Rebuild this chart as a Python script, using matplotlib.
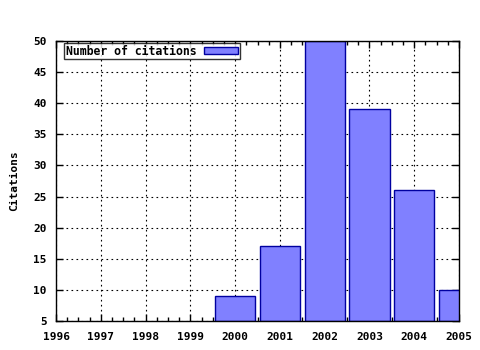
import matplotlib
matplotlib.use("Agg")
import matplotlib.pyplot as plt
from matplotlib.ticker import AutoMinorLocator

years = [2000, 2001, 2002, 2003, 2004, 2005]
citations = [9, 17, 50, 39, 26, 10]
xticks = list(range(1996, 2006))
yticks = list(range(5, 51, 5))

plt.rcParams['font.family'] = ['DejaVu Sans Mono']
plt.rcParams['font.weight'] = 'bold'
plt.rcParams['font.size'] = 8

fig = plt.figure(figsize=(4.8, 3.5), dpi=100)
ax = fig.add_axes([56/480, 1-321/350, (459-56)/480, (321-41)/350])

ax.bar(years, [c - 5 for c in citations], bottom=5, width=0.9,
       color='#8080ff', edgecolor='#0000a0', linewidth=1.0,
       label='Number of citations', zorder=2)

ax.set_xlim(1996, 2005)
ax.set_ylim(5, 50)
ax.set_xticks(xticks)
ax.set_yticks(yticks)
ax.xaxis.set_minor_locator(AutoMinorLocator(4))
ax.grid(True, which='major', linestyle=(0, (1.5, 3)), color='black', linewidth=0.8, zorder=1)
ax.set_axisbelow(True)
ax.tick_params(which='both', direction='in', top=True, right=True, color='black')
ax.tick_params(which='major', length=5, width=1)
ax.tick_params(which='minor', length=3, width=1)
ax.tick_params(axis='x', which='major', pad=8)
ax.tick_params(axis='y', which='major', pad=6.5)
for s in ax.spines.values():
    s.set_linewidth(1)
    s.set_color('black')

ax.set_ylabel('Citations', fontweight='bold', labelpad=10)
for lbl in ax.get_xticklabels() + ax.get_yticklabels():
    lbl.set_fontweight('bold')

leg = ax.legend(loc='upper left', bbox_to_anchor=(0.02, 0.993), borderaxespad=0,
                frameon=True, fancybox=False, borderpad=0.15,
                handlelength=2.9, handleheight=0.45, markerfirst=False,
                handletextpad=0.7, fontsize=8.3)
leg.get_frame().set_edgecolor('black')
leg.get_frame().set_linewidth(1)

fig.savefig('out.png', dpi=100)
